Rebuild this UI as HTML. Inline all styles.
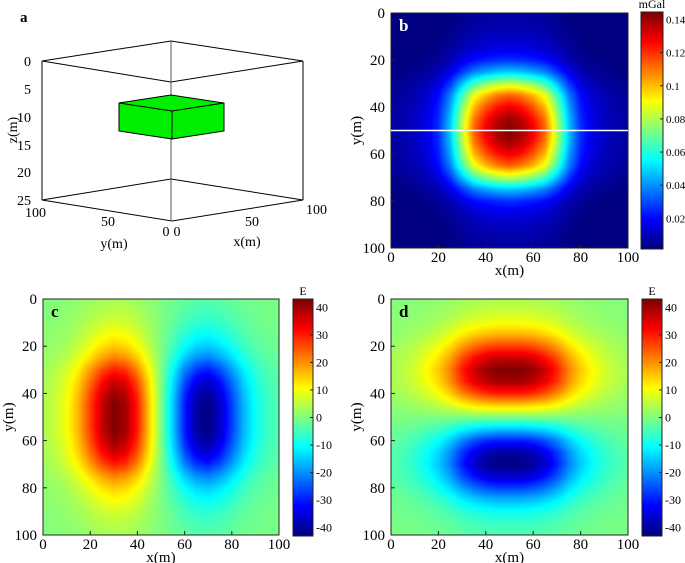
<!DOCTYPE html>
<html><head><meta charset="utf-8">
<style>
html,body{margin:0;padding:0;background:#fff;}
#wrap{position:relative;width:685px;height:563px;overflow:hidden;font-family:"Liberation Serif",serif;}
canvas{position:absolute;}
svg{position:absolute;left:0;top:0;}
text{font-family:"Liberation Serif",serif;fill:#000;}
</style></head><body>
<div id="wrap">
<canvas id="cb" style="left:391px;top:13px" width="237" height="235"></canvas>
<canvas id="cbb" style="left:641px;top:12px" width="22" height="237"></canvas>
<canvas id="cc" style="left:43px;top:299px" width="236" height="236"></canvas>
<canvas id="ccb" style="left:293px;top:299px" width="20" height="237"></canvas>
<canvas id="cd" style="left:391px;top:299px" width="237" height="236"></canvas>
<canvas id="cdb" style="left:642px;top:299px" width="20" height="237"></canvas>
<svg id="svg" width="685" height="563">
 <g stroke="#000" stroke-width="1" fill="none">
  <polyline points="42,61 171,41 303,61" />
  <polyline points="42,61 171,82 303,61" />
  <line x1="42" y1="61" x2="42" y2="200"/>
  <line x1="303" y1="61" x2="303" y2="200"/>
  <line x1="171" y1="41" x2="171" y2="179" stroke="#555"/>
  <polyline points="42,200 171,179 303,200"/>
  <polyline points="42,200 172,221 303,200"/>
  <line x1="171" y1="82" x2="171" y2="221" stroke="#555"/>
  <polygon points="119,103 171,95 224,103 224,131 172,139 119,131" fill="#00ee00"/>
  <polyline points="119,103 172,111 224,103" />
  <line x1="172" y1="111" x2="172" y2="139"/>
 </g>
 <g font-size="14">
  <text x="20" y="22" font-weight="bold" font-size="15">a</text>
  <text x="31" y="66" text-anchor="end">0</text>
  <text x="31" y="94" text-anchor="end">5</text>
  <text x="31" y="122" text-anchor="end">10</text>
  <text x="31" y="150" text-anchor="end">15</text>
  <text x="31" y="177" text-anchor="end">20</text>
  <text x="31" y="205" text-anchor="end">25</text>
  <text transform="translate(17,130) rotate(-90)" text-anchor="middle">z(m)</text>
  <text x="46" y="217" text-anchor="end">100</text>
  <text x="108" y="226" text-anchor="middle">50</text>
  <text x="166" y="236" text-anchor="middle">0</text>
  <text x="177" y="236" text-anchor="middle">0</text>
  <text x="252" y="226" text-anchor="middle">50</text>
  <text x="306" y="214">100</text>
  <text x="114" y="248" text-anchor="middle">y(m)</text>
  <text x="247" y="246" text-anchor="middle">x(m)</text>
 </g>
</svg>
</div>
<script>
// ---- data ----
const profilePos = [0,5,10,15,20,25,30,35,40,45,50,55,60,65,70,75,80,85,90,95,100];
const gravityProfile = [0.006,0.008,0.011,0.016,0.026,0.048,0.082,0.113,0.129,0.140,0.145,0.140,0.129,0.113,0.082,0.048,0.026,0.016,0.011,0.008,0.006];
const gradAcross = [4,6,10,17,27,37,43,40,30,15,0,-15,-30,-40,-43,-37,-27,-17,-10,-6,-4];
const gradAlong = [0.08,0.12,0.17,0.25,0.35,0.5,0.7,0.85,0.95,1,1,1,0.95,0.85,0.7,0.5,0.35,0.25,0.17,0.12,0.08];
const axisTicks = [0,20,40,60,80,100];
const gravTicks = [0.02,0.04,0.06,0.08,0.1,0.12,0.14];
const gravTickLabels = ["0.02","0.04","0.06","0.08","0.1","0.12","0.14"];
const gradTicks = [-40,-30,-20,-10,0,10,20,30,40];
const gravRange = [0.0015,0.1445];
const gradRange = [-43,43];

function interp(arr, v){
  const t = v/5; let i = Math.floor(t); if(i<0)i=0; if(i>=arr.length-1) return arr[arr.length-1];
  const f=t-i; return arr[i]*(1-f)+arr[i+1]*f;
}
function jet(t){
  t=Math.max(0,Math.min(1,t));
  const r=Math.max(0,Math.min(1,1.5-Math.abs(4*t-3)));
  const g=Math.max(0,Math.min(1,1.5-Math.abs(4*t-2)));
  const b=Math.max(0,Math.min(1,1.5-Math.abs(4*t-1)));
  return [r*255,g*255,b*255];
}
function drawField(id, fn, range){
  const c=document.getElementById(id), ctx=c.getContext('2d');
  const W=c.width,H=c.height, im=ctx.createImageData(W,H);
  for(let py=0;py<H;py++)for(let px=0;px<W;px++){
    const x=(px+0.5)/W*100, y=(py+0.5)/H*100;
    const v=fn(x,y), col=jet((v-range[0])/(range[1]-range[0]));
    const k=(py*W+px)*4; im.data[k]=col[0];im.data[k+1]=col[1];im.data[k+2]=col[2];im.data[k+3]=255;
  }
  ctx.putImageData(im,0,0);
}
function drawBar(id){
  const c=document.getElementById(id), ctx=c.getContext('2d');
  for(let py=0;py<c.height;py++){const col=jet(1-py/(c.height-1));ctx.fillStyle=`rgb(${col[0]|0},${col[1]|0},${col[2]|0})`;ctx.fillRect(0,py,c.width,1);}
}
const gmax=Math.max(...gravityProfile);
drawField('cb',(x,y)=>interp(gravityProfile,x)*interp(gravityProfile,y)/gmax,gravRange);
drawField('cc',(x,y)=>interp(gradAcross,x)*interp(gradAlong,y),gradRange);
drawField('cd',(x,y)=>interp(gradAcross,y)*interp(gradAlong,x),gradRange);
drawBar('cbb');drawBar('ccb');drawBar('cdb');

const NS='http://www.w3.org/2000/svg', svg=document.getElementById('svg');
function el(tag,attrs,txt,parent){const e=document.createElementNS(NS,tag);for(const k in attrs)e.setAttribute(k,attrs[k]);if(txt!==undefined)e.textContent=txt;(parent||svg).appendChild(e);return e;}

function panel(p){
  const g=el('g',{});
  
  
  const sx=v=>p.x+v/100*p.w, sy=v=>p.y+v/100*p.h;
  const fr=el('rect',{x:p.x,y:p.y,width:p.w,height:p.h,fill:'none',stroke:'#222','stroke-width':1},undefined,g);
  
  
  axisTicks.forEach(t=>{
    const xl=el('text',{x:sx(t),y:p.y+p.h+14,'text-anchor':'middle','font-size':15},String(t),g);
    
    
    const yl=el('text',{x:p.x-6,y:sy(t)+5,'text-anchor':'end','font-size':15},String(t),g);
    
    
    el('line',{x1:sx(t),x2:sx(t),y1:p.y+p.h,y2:p.y+p.h-4,stroke:'#222'},undefined,g);
    el('line',{x1:p.x,x2:p.x+4,y1:sy(t),y2:sy(t),stroke:'#222'},undefined,g);
  });
  const xt=el('text',{x:p.x+p.w/2,y:p.y+p.h+27,'text-anchor':'middle','font-size':15},'x(m)',g);
  
  
  const yt=el('text',{transform:`translate(${p.ytx},${p.y+p.h/2}) rotate(-90)`,'text-anchor':'middle','font-size':15},'y(m)',g);
  
  
  const lt=el('text',{x:p.x+8,y:p.y+18,'font-weight':'bold','font-size':17,style:'fill:'+p.lc},p.name,g);
  
  
  const cb=p.cb, cy=v=>cb.y+cb.h*(1-(v-p.range[0])/(p.range[1]-p.range[0]));
  el('rect',{x:cb.x,y:cb.y,width:cb.w,height:cb.h,fill:'none',stroke:'#222'},undefined,g);
  p.ticks.forEach((t,i)=>{
    el('line',{x1:cb.x+cb.w,x2:cb.x+cb.w-3,y1:cy(t),y2:cy(t),stroke:'#222'},undefined,g);
    const tl=el('text',{x:cb.x+cb.w+3,y:cy(t)+4,'font-size':p.fs},p.labels[i],g);
    
    
  });
  const u=el('text',{x:cb.x+cb.w/2,y:cb.y-4,'text-anchor':'middle','font-size':12},p.unit,g);
  
  
  return {g,sx,sy};
}
const pb=panel({name:'b',lc:'#fff',fs:11,x:391,y:13,w:237,h:235,ytx:361,cb:{x:641,y:12,w:22,h:237},range:gravRange,ticks:gravTicks,labels:gravTickLabels,unit:'mGal'});
const pl=el('line',{x1:pb.sx(0),x2:pb.sx(100),y1:pb.sy(50),y2:pb.sy(50),stroke:'#fff','stroke-width':1.5},undefined,pb.g);


panel({name:'c',lc:'#000',fs:12,x:43,y:299,w:236,h:236,ytx:13,cb:{x:293,y:299,w:20,h:237},range:gradRange,ticks:gradTicks,labels:gradTicks.map(String),unit:'E'});
panel({name:'d',lc:'#000',fs:12,x:391,y:299,w:237,h:236,ytx:361,cb:{x:642,y:299,w:20,h:237},range:gradRange,ticks:gradTicks,labels:gradTicks.map(String),unit:'E'});
</script>
</body></html>
